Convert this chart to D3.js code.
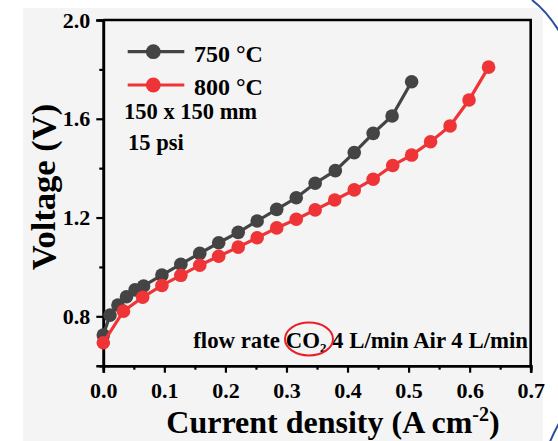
<!DOCTYPE html>
<html>
<head>
<meta charset="utf-8">
<script src="https://cdn.jsdelivr.net/npm/d3@7"></script>
<style>
  body { margin: 0; background: #fff; }
  svg { display: block; }
  text { font-family: "Liberation Serif", "Times New Roman", serif; font-weight: bold; fill: #000; }
</style>
</head>
<body>
<script>
// values
const current750 = [0, 0.011, 0.024, 0.038, 0.052, 0.066, 0.096, 0.127, 0.158, 0.189, 0.221, 0.252, 0.284, 0.316, 0.347, 0.380, 0.411, 0.442, 0.473, 0.505]
const voltage750 = [0.724, 0.805, 0.846, 0.879, 0.907, 0.923, 0.967, 1.011, 1.055, 1.098, 1.140, 1.186, 1.233, 1.280, 1.339, 1.390, 1.463, 1.541, 1.611, 1.750]
const current800 = [0, 0.033, 0.0645, 0.096, 0.127, 0.158, 0.189, 0.221, 0.252, 0.284, 0.316, 0.347, 0.379, 0.411, 0.442, 0.474, 0.505, 0.536, 0.568, 0.599, 0.631]
const voltage800 = [0.693, 0.821, 0.877, 0.925, 0.966, 1.007, 1.043, 1.080, 1.118, 1.158, 1.193, 1.231, 1.271, 1.312, 1.355, 1.411, 1.453, 1.507, 1.571, 1.676, 1.809]
const seriesNames = ['750 °C', '800 °C']
const xTicks = [0, 0.1, 0.2, 0.3, 0.4, 0.5, 0.6, 0.7]
const yTicks = [0.8, 1.2, 1.6, 2.0]

const config = {
  width: 558,
  height: 441,
  left: 103.3,
  right: 530.7,
  top: 20,
  bottom: 365.7,
  colors: ['#444444', '#ee3436'],
  radius: 6.8
}

const series = [
  current750.map((c, i) => ({ x: c, y: voltage750[i] })),
  current800.map((c, i) => ({ x: c, y: voltage800[i] }))
]

const svg = d3.select('body').append('svg')
  .attr('width', config.width)
  .attr('height', config.height)

// light textured panel behind the figure
svg.append('rect')
  .attr('x', 23).attr('y', 8)
  .attr('width', 520).attr('height', 440)
  .attr('fill', '#f4f4f4')

const x = d3.scaleLinear().domain([0, 0.7]).range([config.left, config.right])
const y = d3.scaleLinear().domain([0.6, 2.0]).range([config.bottom, config.top])

// minor ticks first, then major axes
svg.append('g')
  .attr('transform', `translate(0,${config.bottom})`)
  .call(d3.axisBottom(x).tickValues(d3.range(0.05, 0.7, 0.1)).tickSize(4).tickFormat(''))
svg.append('g')
  .attr('transform', `translate(${config.left},0)`)
  .call(d3.axisLeft(y).tickValues([1.0, 1.4, 1.8]).tickSize(4).tickFormat(''))

svg.append('g')
  .attr('transform', `translate(0,${config.bottom})`)
  .call(d3.axisBottom(x).tickValues(xTicks).tickSize(7).tickPadding(10).tickFormat(d3.format('.1f')))
svg.append('g')
  .attr('transform', `translate(${config.left},0)`)
  .call(d3.axisLeft(y).tickValues(yTicks).tickSize(7).tickPadding(6).tickFormat(d3.format('.1f')))

svg.selectAll('.domain').attr('stroke', '#000').attr('stroke-width', 2.6)
svg.selectAll('.tick line').attr('stroke', '#000').attr('stroke-width', 2.2)
svg.selectAll('.tick text').style('font-size', '22px').attr('fill', '#000')
  .style('font-family', '"Liberation Serif", serif').style('font-weight', 'bold')

// frame top and right
svg.append('path')
  .attr('d', `M${config.left},${config.top}H${config.right}V${config.bottom}`)
  .attr('fill', 'none').attr('stroke', '#000').attr('stroke-width', 2.6)

const line = d3.line().x(d => x(d.x)).y(d => y(d.y))

series.forEach((s, i) => {
  svg.append('path')
    .datum(s)
    .attr('d', line)
    .attr('fill', 'none')
    .attr('stroke', config.colors[i])
    .attr('stroke-width', 3.2)
  svg.selectAll('.dot' + i)
    .data(s).enter().append('circle')
    .attr('cx', d => x(d.x))
    .attr('cy', d => y(d.y))
    .attr('r', config.radius)
    .attr('fill', config.colors[i])
})

// legend
const legendY = [51.7, 85]
seriesNames.forEach((name, i) => {
  const g = svg.append('g')
  g.append('line')
    .attr('x1', 127.7).attr('x2', 184.3)
    .attr('y1', legendY[i]).attr('y2', legendY[i])
    .attr('stroke', config.colors[i]).attr('stroke-width', 3.2)
  g.append('circle')
    .attr('cx', 153.3).attr('cy', legendY[i]).attr('r', 7.4)
    .attr('fill', config.colors[i])
  g.append('text')
    .attr('x', 194).attr('y', legendY[i] + 10.3)
    .style('font-size', '24px')
    .text(name)
})

svg.append('text').attr('x', 124).attr('y', 119).style('font-size', '22.5px').text('150 x 150 mm')
svg.append('text').attr('x', 128).attr('y', 150).style('font-size', '22.5px').text('15 psi')

// flow rate note
const note = svg.append('text')
  .attr('x', 528).attr('y', 348)
  .attr('text-anchor', 'end')
  .style('font-size', '22.8px')
note.append('tspan').text('flow rate CO')
note.append('tspan').attr('dy', 4).style('font-size', '13px').text('2')
note.append('tspan').attr('dy', -4).text(' 4 L/min Air 4 L/min')

svg.append('ellipse')
  .attr('cx', 309).attr('cy', 339).attr('rx', 24).attr('ry', 16.5)
  .attr('fill', 'none').attr('stroke', '#e8202a').attr('stroke-width', 2)

// axis titles
const xTitle = svg.append('text')
  .attr('x', 333).attr('y', 433)
  .attr('text-anchor', 'middle')
  .style('font-size', '32px')
xTitle.append('tspan').text('Current density (A cm')
xTitle.append('tspan').attr('dy', -12).style('font-size', '20px').text('-2')
xTitle.append('tspan').attr('dy', 12).text(')')

svg.append('text')
  .attr('transform', 'translate(55,187) rotate(-90)')
  .attr('text-anchor', 'middle')
  .style('font-size', '34.5px')
  .text('Voltage (V)')

// blue outline arcs at the right edge
svg.append('path')
  .attr('d', 'M532,0 Q548,12 562,36')
  .attr('fill', 'none').attr('stroke', '#2b4fa0').attr('stroke-width', 2)
svg.append('path')
  .attr('d', 'M549,444 Q554,432 562,418')
  .attr('fill', 'none').attr('stroke', '#2b4fa0').attr('stroke-width', 2)
</script>
</body>
</html>
